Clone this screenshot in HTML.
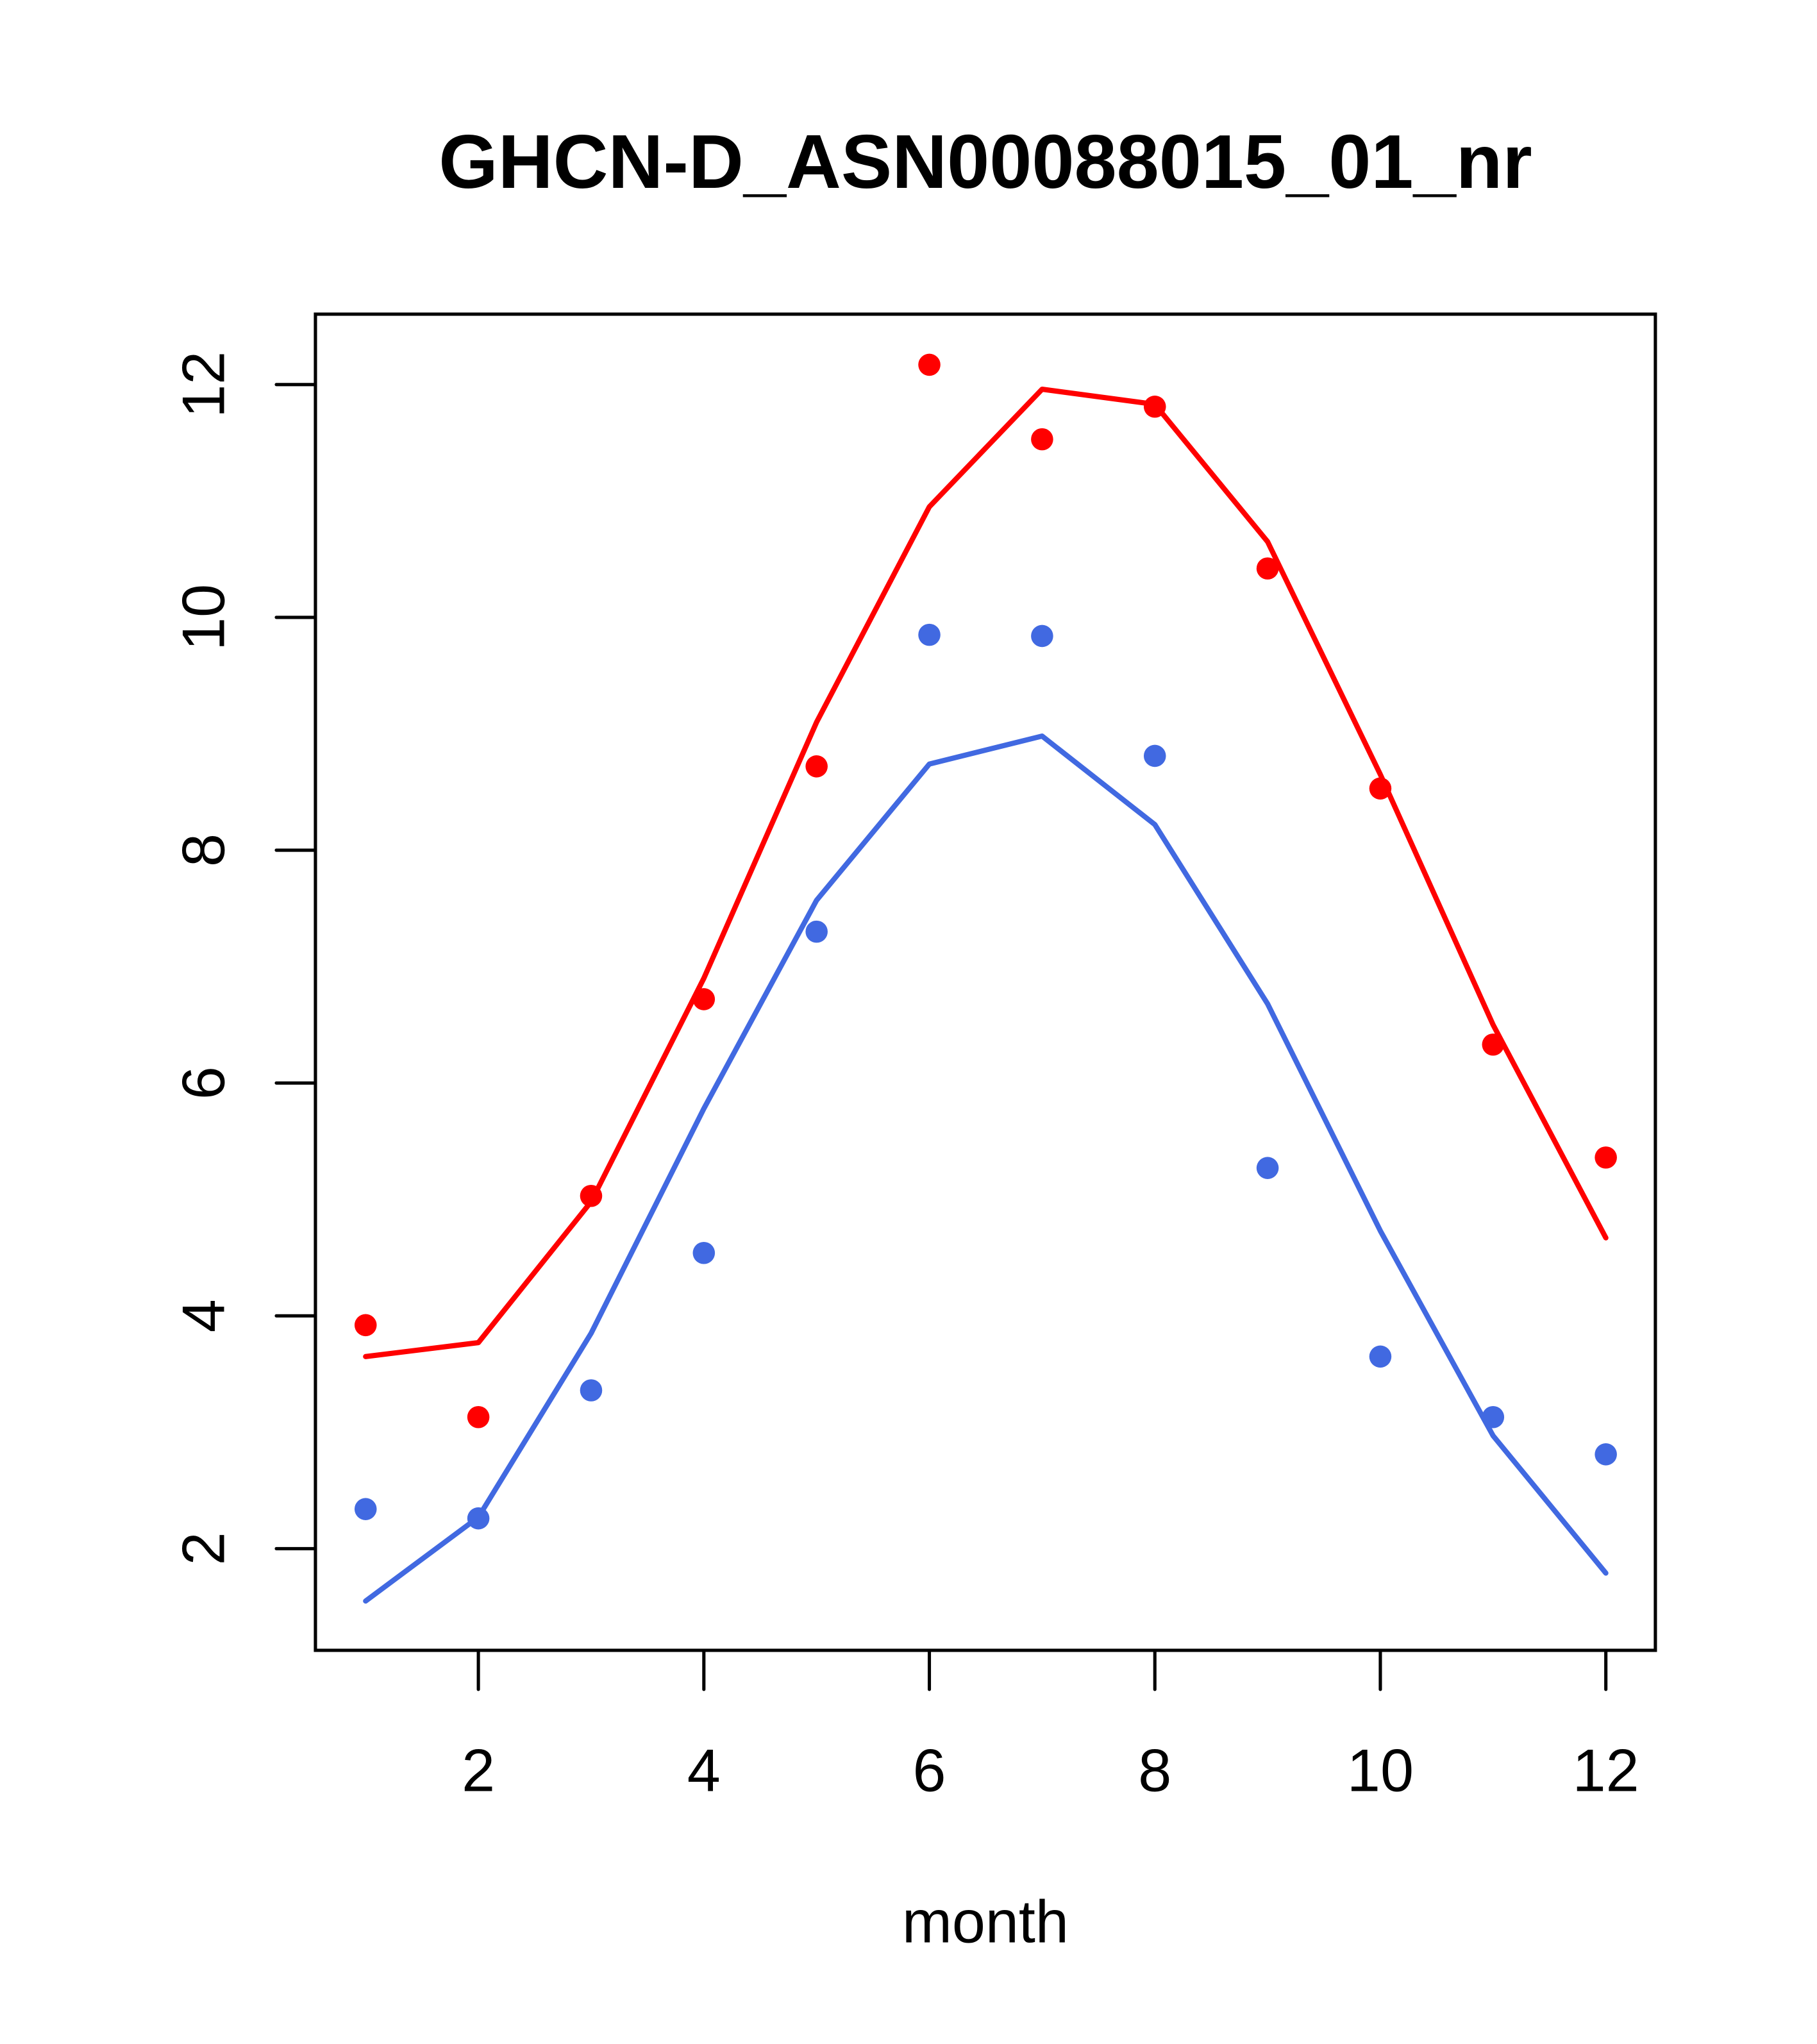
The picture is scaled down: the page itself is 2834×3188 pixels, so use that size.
<!DOCTYPE html>
<html><head><meta charset="utf-8"><style>
html,body{margin:0;padding:0;background:#fff;}
svg{display:block;}
text{font-family:"Liberation Sans",Arial,sans-serif;fill:#000;}
</style></head><body>
<svg id="chart" width="2834" height="3188" viewBox="0 0 1394 1568" preserveAspectRatio="none" xmlns="http://www.w3.org/2000/svg">
<rect x="0" y="0" width="1394" height="1568" fill="#fff"/>
<text x="756" y="144" font-size="58.5" font-weight="bold" text-anchor="middle">GHCN-D_ASN00088015_01_nr</text>
<text x="756" y="1490" font-size="46" text-anchor="middle">month</text>
<g id="marks"></g>
<rect x="242" y="241" width="1028" height="1025" fill="none" stroke="#000" stroke-width="2.5"/>
</svg>
<script>
const months = [1,2,3,4,5,6,7,8,9,10,11,12];
const redPoints = [3.92,3.13,5.03,6.72,8.72,12.17,11.53,11.81,10.42,8.53,6.33,5.36];
const redLine = [3.65,3.77,4.98,6.9,9.1,10.95,11.96,11.83,10.65,8.65,6.5,4.67];
const bluePoints = [2.34,2.26,3.36,4.54,7.3,9.85,9.84,8.81,5.27,3.65,3.13,2.81];
const blueLine = [1.55,2.27,3.85,5.78,7.57,8.74,8.98,8.22,6.68,4.73,2.97,1.79];
const xTicks = [2,4,6,8,10,12];
const yTicks = [2,4,6,8,10,12];

const NS = "http://www.w3.org/2000/svg";
function xs(v){ return 367 + (v-2)*(1232-367)/10; }
function ys(v){ return 1188 - (v-2)*(1188-295)/10; }
const g = document.getElementById('marks');
function mk(tag, attrs, parent){
  const e = document.createElementNS(NS, tag);
  for (const k in attrs) e.setAttribute(k, attrs[k]);
  (parent||g).appendChild(e);
  return e;
}
xTicks.forEach(t=>{
  const l = mk('line',{x1:xs(t),x2:xs(t),y1:1266,y2:1296,stroke:'#000','stroke-width':2.5,'stroke-linecap':'round'});
  
  
  const tx = mk('text',{x:xs(t),y:1374,'font-size':46,'text-anchor':'middle'});
  tx.textContent = t;
  
  
});
yTicks.forEach(t=>{
  const l = mk('line',{x1:212,x2:242,y1:ys(t),y2:ys(t),stroke:'#000','stroke-width':2.5,'stroke-linecap':'round'});
  
  
  const tx = mk('text',{x:0,y:0,'font-size':46,'text-anchor':'middle',transform:'translate(172,'+ys(t)+') rotate(-90)'});
  tx.textContent = t;
  
  
});
function line(vals,color,name){
  const p = mk('polyline',{points:months.map((m,i)=>xs(m)+','+ys(vals[i])).join(' '),fill:'none',stroke:color,'stroke-width':4,'stroke-linejoin':'round','stroke-linecap':'round'});
  
  
}
function pts(vals,color,name){
  months.forEach((m,i)=>{
    const c = mk('circle',{cx:xs(m),cy:ys(vals[i]),r:8.5,fill:color});
    
    
  });
}
line(redLine,'#ff0000','red-line');
line(blueLine,'#4169e1','blue-line');
pts(redPoints,'#ff0000','red-point');
pts(bluePoints,'#4169e1','blue-point');
</script>
</body></html>
